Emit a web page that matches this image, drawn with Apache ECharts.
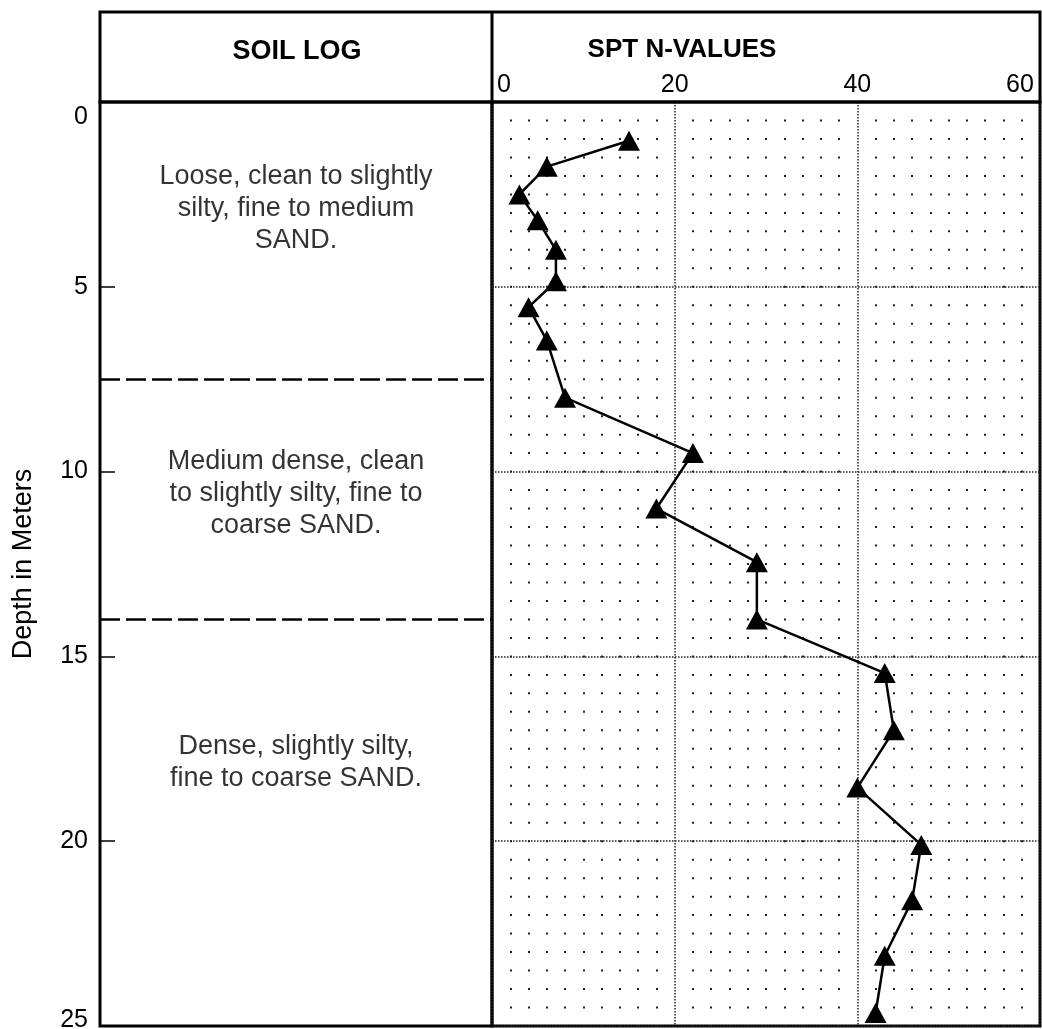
<!DOCTYPE html>
<html>
<head>
<meta charset="utf-8">
<script src="https://cdn.jsdelivr.net/npm/echarts@6/dist/echarts.min.js"></script>
<style>
html,body{margin:0;padding:0;background:#fff;}
#chart{width:1042px;height:1029px;}
</style>
</head>
<body>
<div id="chart"></div>
<script>
// ---- data ----
var depths   = [1.05, 1.75, 2.5, 3.2, 4.0, 4.85, 5.55, 6.45, 8.0, 9.5, 11.0, 12.45, 14.0, 15.45, 17.0, 18.55, 20.1, 21.6, 23.1, 24.65];
var nValues  = [15, 6, 3, 5, 7, 7, 4, 6, 8, 22, 18, 29, 29, 43, 44, 40, 47, 46, 43, 42];
var xTickLabels = ['0', '20', '40', '60'];
var yTickLabels = ['0', '5', '10', '15', '20', '25'];
var layerBoundaries = [7.5, 14.0];
var layerDescriptions = [
  'Loose, clean to slightly\nsilty, fine to medium\nSAND.',
  'Medium dense, clean\nto slightly silty, fine to\ncoarse SAND.',
  'Dense, slightly silty,\nfine to coarse SAND.'
];
var layerLabelDepths = [2.87, 10.6, 17.87];
var headerSoil = 'SOIL LOG';
var headerSpt = 'SPT N-VALUES';
var depthAxisName = 'Depth in Meters';

// ---- layout ----
var FONT = '"Liberation Sans", Arial, Helvetica, sans-serif';
var TXT = '#000';
var TOP = 102, BOTTOM = 3, H = 1029 - TOP - BOTTOM;
var dotStep = H / 50; // 0.5 m spacing

var chart = echarts.init(document.getElementById('chart'), null, {renderer: 'canvas'});

var sptData = nValues.map(function (n, i) { return [n, depths[i]]; });
var descData = layerDescriptions.map(function (t, i) {
  return { value: [0.5, layerLabelDepths[i]], label: { formatter: t } };
});

var option = {
  backgroundColor: '#fff',
  animation: false,
  grid: [
    { left: 100, top: TOP, width: 392, bottom: BOTTOM, show: true, borderColor: '#000', borderWidth: 3, containLabel: false, outerBoundsMode: 'none' },
    { left: 492, top: TOP, width: 548, bottom: BOTTOM, show: true, borderColor: '#000', borderWidth: 3, containLabel: false, outerBoundsMode: 'none' }
  ],
  xAxis: [
    { gridIndex: 0, type: 'value', min: 0, max: 1, show: false },
    {
      gridIndex: 1, type: 'value', position: 'top', min: 0, max: 60, interval: 20,
      axisLine: { show: false }, axisTick: { show: false },
      axisLabel: {
        margin: 4, fontSize: 25, color: TXT, fontFamily: FONT,
        formatter: function (v) {
          var idx = Math.round(v / 20);
          var s = xTickLabels[idx];
          if (idx === 0) return '{a|' + s + '}';
          if (idx === xTickLabels.length - 1) return '{b|' + s + '}';
          return s;
        },
        rich: {
          a: { fontSize: 25, color: TXT, fontFamily: FONT, padding: [0, 0, 0, 24] },
          b: { fontSize: 25, color: TXT, fontFamily: FONT, padding: [0, 40, 0, 0] }
        }
      },
      splitLine: { show: true, lineStyle: { color: '#222', width: 1.5, type: [1.5, 1.5] } },
      minorTick: { show: false, splitNumber: 10 },
      minorSplitLine: { show: true, lineStyle: { color: '#222', width: 2, type: [2, dotStep - 2], dashOffset: 1 } }
    }
  ],
  yAxis: [
    {
      gridIndex: 0, type: 'value', inverse: true, min: 0, max: 25, interval: 5,
      name: depthAxisName, nameLocation: 'middle', nameRotate: 90, nameGap: 63,
      nameTextStyle: { fontSize: 27, color: TXT, fontFamily: FONT },
      axisLine: { show: false },
      axisTick: { show: true, inside: true, length: 15, lineStyle: { color: '#000', width: 1.5 } },
      axisLabel: {
        margin: 12, fontSize: 25, color: TXT, fontFamily: FONT,
        formatter: function (v) {
          var idx = Math.round(v / 5);
          var s = yTickLabels[idx];
          if (idx === 0) return '{t|' + s + '}';
          if (idx === yTickLabels.length - 1) return '{u|' + s + '}';
          return s;
        },
        rich: {
          t: { fontSize: 25, color: TXT, fontFamily: FONT, padding: [30, 0, 0, 0] },
          u: { fontSize: 25, color: TXT, fontFamily: FONT, padding: [0, 0, 12, 0] }
        }
      },
      splitLine: { show: false }
    },
    {
      gridIndex: 1, type: 'value', inverse: true, min: 0, max: 25, interval: 5,
      axisLine: { show: false }, axisTick: { show: false }, axisLabel: { show: false },
      splitLine: { show: true, lineStyle: { color: '#222', width: 1.5, type: [1.5, 1.5] } }
    }
  ],
  series: [
    {
      type: 'scatter', xAxisIndex: 0, yAxisIndex: 0, symbolSize: 0, silent: true,
      data: descData,
      label: {
        show: true, position: 'inside', fontSize: 27, lineHeight: 32, color: TXT,
        fontFamily: FONT, align: 'center', verticalAlign: 'middle'
      },
      markLine: {
        silent: true, symbol: 'none', label: { show: false },
        lineStyle: { color: '#000', width: 2.5, type: [20, 6] },
        data: layerBoundaries.map(function (d) { return { yAxis: d }; })
      }
    },
    {
      type: 'line', xAxisIndex: 1, yAxisIndex: 1, data: sptData,
      symbol: 'triangle', symbolSize: [22, 20], z: 5,
      itemStyle: { color: '#000' },
      lineStyle: { color: '#000', width: 2.5 }
    }
  ],
  graphic: [
    { type: 'rect', shape: { x: 100, y: 12, width: 940, height: 90 }, style: { fill: 'none', stroke: '#000', lineWidth: 3 }, z: 10 },
    { type: 'line', shape: { x1: 492, y1: 12, x2: 492, y2: 102 }, style: { stroke: '#000', lineWidth: 3 }, z: 10 },
    { type: 'text', x: 297, y: 52, style: { text: headerSoil, font: 'bold 27px ' + FONT, fill: TXT, textAlign: 'center', textVerticalAlign: 'middle' }, z: 10 },
    { type: 'text', x: 682, y: 50, style: { text: headerSpt, font: 'bold 26px ' + FONT, fill: TXT, textAlign: 'center', textVerticalAlign: 'middle' }, z: 10 }
  ]
};
chart.setOption(option);
</script>
</body>
</html>
